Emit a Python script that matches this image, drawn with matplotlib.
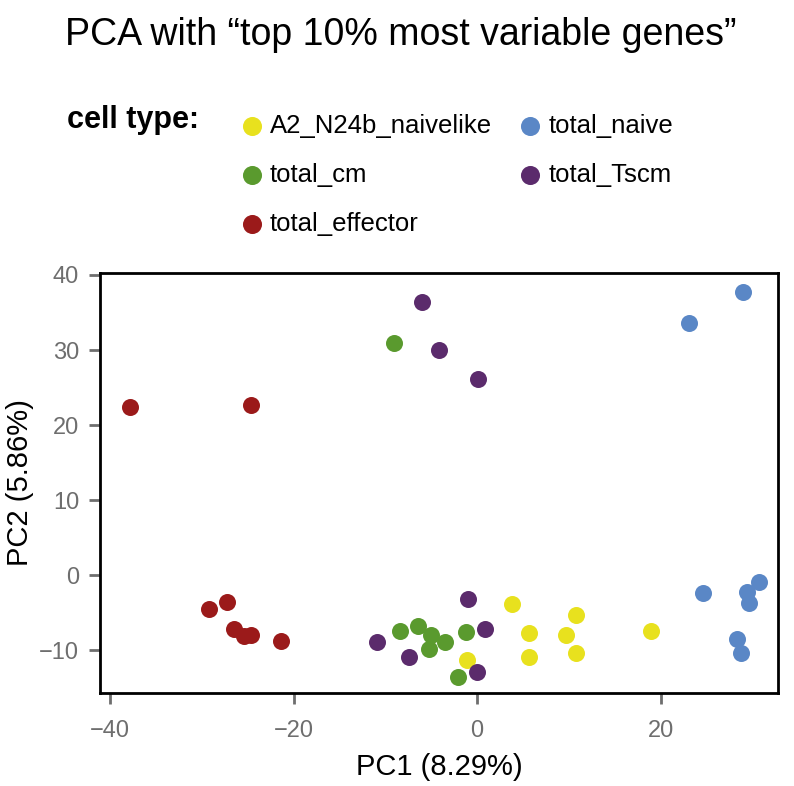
import matplotlib
matplotlib.use("Agg")
import matplotlib.pyplot as plt

plt.rcParams['font.family'] = ['Liberation Sans', 'DejaVu Sans']

# PC coordinates per cell type
labels = ['A2_N24b_naivelike', 'total_naive', 'total_cm', 'total_Tscm', 'total_effector']
colors = ['#E8E11E', '#5A87C6', '#5A9A2E', '#5B2B6C', '#9B1A1A']

pc1 = {
    'A2_N24b_naivelike': [-1.1, 3.8, 5.7, 5.7, 9.7, 10.8, 10.8, 19.0],
    'total_naive': [24.6, 29.4, 30.7, 29.6, 28.3, 28.8, 23.1, 29.0],
    'total_cm': [-8.4, -6.4, -5.0, -3.5, -5.3, -1.2, -2.1, -9.1],
    'total_Tscm': [-10.9, -7.4, -1.0, 0.9, 0.0, -6.0, -4.2, 0.1],
    'total_effector': [-37.8, -24.7, -29.2, -27.3, -26.5, -25.4, -24.7, -21.4],
}
pc2 = {
    'A2_N24b_naivelike': [-11.3, -3.8, -7.7, -10.9, -7.9, -5.3, -10.3, -7.4],
    'total_naive': [-2.4, -2.2, -0.9, -3.7, -8.5, -10.3, 33.6, 37.7],
    'total_cm': [-7.4, -6.8, -8.0, -8.9, -9.8, -7.6, -13.5, 30.9],
    'total_Tscm': [-8.9, -10.9, -3.2, -7.2, -12.9, 36.4, 30.0, 26.1],
    'total_effector': [22.4, 22.7, -4.5, -3.6, -7.1, -8.1, -7.9, -8.8],
}

fig = plt.figure(figsize=(7.94, 7.86), dpi=100)
ax = fig.add_axes([0.126, 0.118, 0.854, 0.535])

handles = {}
for lab, col in zip(labels, colors):
    handles[lab] = ax.scatter(pc1[lab], pc2[lab], s=150, color=col, linewidths=0, label=lab)

ax.set_xlim(-41.1, 32.8)
ax.set_ylim(-15.7, 40.3)
ax.set_xticks([-40, -20, 0, 20])
ax.set_yticks([-10, 0, 10, 20, 30, 40])
ax.set_xticklabels(['\u221240', '\u221220', '0', '20'])
ax.set_yticklabels(['\u221210', '0', '10', '20', '30', '40'])
ax.tick_params(axis='both', labelsize=17, labelcolor='#6e6e6e', color='#6e6e6e',
               length=8, width=2)
ax.tick_params(axis='x', pad=11)
ax.tick_params(axis='y', pad=7)
for sp in ax.spines.values():
    sp.set_linewidth(2)
ax.set_xlabel('PC1 (8.29%)', fontsize=21, labelpad=8)
ax.set_ylabel('PC2 (5.86%)', fontsize=21, labelpad=4)

fig.text(0.082, 0.955, 'PCA with \u201ctop 10% most variable genes\u201d',
         fontsize=27, ha='left', va='center')
fig.text(0.085, 0.847, 'cell type:', fontsize=22, fontweight='bold', ha='left', va='center')

order = ['A2_N24b_naivelike', 'total_cm', 'total_effector', 'total_naive', 'total_Tscm']
fig.legend([handles[k] for k in order], order, ncol=2, frameon=False,
           loc='upper left', bbox_to_anchor=(0.301, 0.855), fontsize=18.5,
           borderpad=0, borderaxespad=0,
           handletextpad=0.2, columnspacing=1.0, labelspacing=0.97,
           markerscale=1.12, handlelength=1.0)

fig.savefig('out.png', dpi=100)
